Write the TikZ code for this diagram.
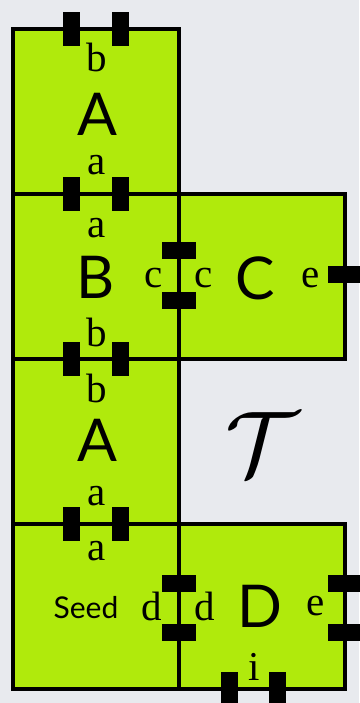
\documentclass[tikz,border=0pt]{standalone}
\usepackage{fontspec}
\setmainfont{Liberation Serif}
\newfontfamily\tilefont{Lato}
\definecolor{tilegreen}{RGB}{176,234,12}
\definecolor{backgray}{RGB}{232,234,238}
\tikzset{
  tile/.style={draw=black, line width=4.5pt, fill=tilegreen, minimum width=166pt,
    minimum height=165pt, inner sep=0pt},
  gluev/.style={fill=black, minimum width=17pt, minimum height=34pt, inner sep=0pt},
  glueh/.style={fill=black, minimum width=34pt, minimum height=17pt, inner sep=0pt},
  gluelab/.style={anchor=base, inner sep=0pt, font=\fontsize{41}{41}\selectfont},
  tilelab/.style={anchor=base, inner sep=0pt, text depth=0pt,
    font=\tilefont\fontsize{59}{59}\selectfont},
}

\begin{document}
\begin{tikzpicture}[x=1pt,y=-1pt]
\fill[backgray] (0,0) rectangle (359,703);
\useasboundingbox (0,0) rectangle (359,703);
% tiles
\node[tile] (A1) at (96,111.5) {};
\node[tile] (B) at (96,276.5) {};
\node[tile] (A2) at (96,441.5) {};
\node[tile] (S) at (96,606.5) {};
\node[tile] (C) at (262,276.5) {};
\node[tile] (D) at (262,606.5) {};
% glues
\node[gluev] (g1) at (71.5,29) {};
\node[gluev] (g2) at (120.5,29) {};
\node[gluev] (g3) at (71.5,194) {};
\node[gluev] (g4) at (120.5,194) {};
\node[gluev] (g5) at (71.5,359) {};
\node[gluev] (g6) at (120.5,359) {};
\node[gluev] (g7) at (71.5,524) {};
\node[gluev] (g8) at (120.5,524) {};
\node[glueh] (g9) at (179,250.5) {};
\node[glueh] (g10) at (179,300) {};
\node[glueh] (g11) at (345,274.5) {};
\node[glueh] (g12) at (179,583) {};
\node[glueh] (g13) at (179,632) {};
\node[glueh] (g14) at (345,583) {};
\node[glueh] (g15) at (345,632) {};
\node[gluev] (g16) at (229.5,689) {};
\node[gluev] (g17) at (277.5,689) {};
% tile names
\node[tilelab] (lA1) at (97,136) {A};
\node[tilelab] (lB) at (96,298) {B};
\node[tilelab] (lA2) at (97,461) {A};
\node[tilelab] (lC) at (255,299) {C};
\node[tilelab] (lD) at (260,627) {D};
\node[anchor=base, inner sep=0pt, font=\tilefont\fontsize{30}{30}\selectfont] (seed) at (86,618) {Seed};
% glue labels
\node[gluelab] (b1) at (97,72) {b};
\node[gluelab] (a1) at (97,175) {a};
\node[gluelab] (a2) at (97,237) {a};
\node[gluelab] (b2) at (97,346) {b};
\node[gluelab] (b3) at (97,402) {b};
\node[gluelab] (a3) at (97,505) {a};
\node[gluelab] (a4) at (97,560) {a};
\node[gluelab] (c1) at (154,287) {c};
\node[gluelab] (c2) at (204,287) {c};
\node[gluelab] (e1) at (311,287) {e};
\node[gluelab] (d1) at (152,620) {d};
\node[gluelab] (d2) at (205,620) {d};
\node[gluelab] (e2) at (316,615) {e};
\node[gluelab] (i1) at (254,680) {i};
% the set
\node[scale=9.2, inner sep=0pt] (T) at (262,444) {$\mathcal{T}$};
\end{tikzpicture}
\end{document}
